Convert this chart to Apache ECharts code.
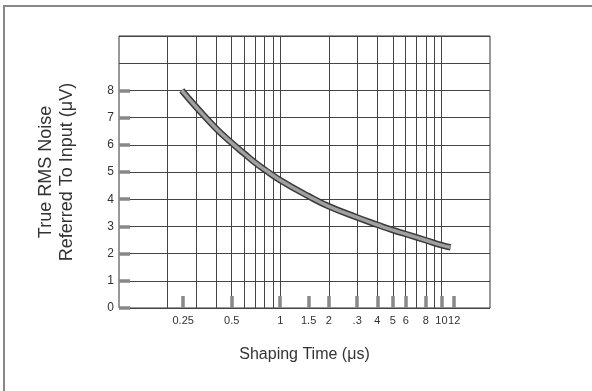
<!DOCTYPE html>
<html>
<head>
<meta charset="utf-8">
<script src="https://cdn.jsdelivr.net/npm/echarts@6/dist/echarts.min.js"></script>
<style>
  html, body { margin: 0; padding: 0; background: #fff; }
  #chart { width: 592px; height: 391px; }
</style>
</head>
<body>
<div id="chart"></div>
<script>
// shaping time (us) vs noise (uV)
const shapingTime = [0.245, 0.3, 0.4, 0.5, 0.6, 0.7, 0.8, 1, 1.5, 2, 3, 4, 5, 6, 8, 10, 11.4];
const noise = [8.0, 7.4, 6.6, 6.07, 5.67, 5.34, 5.09, 4.7, 4.11, 3.74, 3.33, 3.06, 2.86, 2.72, 2.49, 2.31, 2.23];

// log paper grid lines and the marked shaping times
const gridX = [0.2, 0.3, 0.4, 0.5, 0.6, 0.7, 0.8, 0.9, 1, 2, 3, 4, 5, 6, 7, 8, 9, 10];
const tickX = [0.25, 0.5, 1, 1.5, 2, 3, 4, 5, 6, 8, 10, 12];
const tickXText = ['0.25', '0.5', '1', '1.5', '2', '.3', '4', '5', '6', '8', '10', '12'];
const tickY = [0, 1, 2, 3, 4, 5, 6, 7, 8];

const font = 'Liberation Sans';
const ink = '#333';

const chart = echarts.init(document.getElementById('chart'));

const points = shapingTime.map((t, i) => [t, noise[i]]);

const option = {
  animation: false,
  backgroundColor: '#fff',
  textStyle: { fontFamily: font },
  graphic: [{
    type: 'rect',
    shape: { x: 4, y: 6, width: 620, height: 420 },
    style: { fill: 'none', stroke: '#888', lineWidth: 2 },
    silent: true
  }],
  grid: {
    left: 119, right: 102, top: 36, bottom: 83,
    show: true,
    borderColor: ink,
    borderWidth: 1
  },
  xAxis: [
    {
      type: 'log',
      min: 0.1,
      max: 20,
      axisLine: { show: false },
      axisTick: { show: false, customValues: gridX },
      axisLabel: { show: false },
      splitLine: { show: true, lineStyle: { color: '#444', width: 1 } }
    },
    {
      type: 'log',
      min: 0.1,
      max: 20,
      position: 'bottom',
      axisLine: { show: false },
      axisTick: {
        show: true, inside: true, length: 12, interval: 0, customValues: tickX,
        lineStyle: { color: '#888', width: 3.5 }
      },
      axisLabel: {
        customValues: tickX,
        interval: 0,
        hideOverlap: false,
        margin: 7,
        color: ink,
        fontSize: 11,
        fontFamily: font,
        formatter: function (v) {
          for (let i = 0; i < tickX.length; i++) {
            if (Math.abs(tickX[i] - v) / tickX[i] < 1e-6) return tickXText[i];
          }
          return '';
        }
      },
      splitLine: { show: false },
      name: 'Shaping Time (\u03bcs)',
      nameLocation: 'middle',
      nameGap: 39,
      nameTextStyle: { color: ink, fontSize: 16, fontFamily: font }
    }
  ],
  yAxis: [
    {
      type: 'value',
      min: 0,
      max: 10,
      interval: 1,
      axisLine: { show: false },
      axisTick: { show: false },
      axisLabel: { show: false },
      splitLine: { show: true, lineStyle: { color: '#444', width: 1 } }
    },
    {
      type: 'value',
      min: 0,
      max: 10,
      interval: 1,
      position: 'left',
      axisLine: { show: false },
      axisTick: {
        show: true, inside: true, length: 11, customValues: tickY,
        lineStyle: { color: '#888', width: 3.5 }
      },
      axisLabel: {
        customValues: tickY,
        margin: 5,
        color: ink,
        fontSize: 12,
        fontFamily: font
      },
      splitLine: { show: false },
      name: 'True RMS Noise\nReferred To Input (\u03bcV)',
      nameLocation: 'middle',
      nameRotate: 90,
      nameGap: 41,
      nameTextStyle: { color: ink, fontSize: 18, fontFamily: font, lineHeight: 21, align: 'center' }
    }
  ],
  series: [
    {
      type: 'line',
      xAxisIndex: 0,
      yAxisIndex: 0,
      data: points,
      smooth: 0.5,
      showSymbol: false,
      lineStyle: { color: '#3a3a3a', width: 6.5 },
      z: 3
    },
    {
      type: 'line',
      xAxisIndex: 0,
      yAxisIndex: 0,
      data: points,
      smooth: 0.5,
      showSymbol: false,
      lineStyle: { color: '#a0a0a0', width: 3.5 },
      z: 4
    }
  ]
};

chart.setOption(option);
</script>
</body>
</html>
